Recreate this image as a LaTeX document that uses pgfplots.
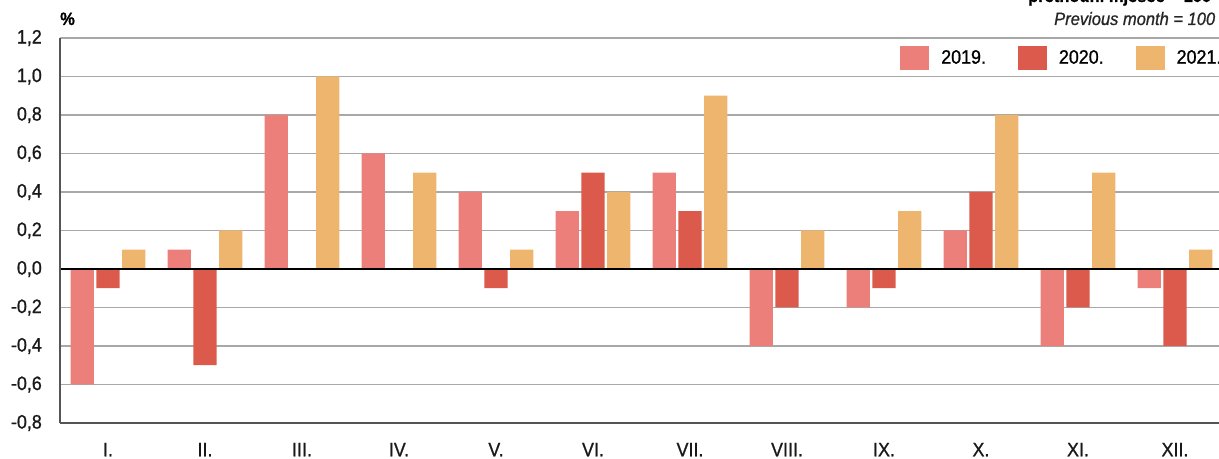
\documentclass[border=0pt]{standalone}
\usepackage{pgfplots}
\pgfplotsset{compat=1.18}
\usepackage{fontspec}
\setmainfont{Liberation Sans}[FakeStretch=0.92, FakeBold=0.9]
\definecolor{c19}{HTML}{EC7F7A}
\definecolor{c20}{HTML}{DC5A4B}
\definecolor{c21}{HTML}{EDB56E}
\definecolor{gridc}{HTML}{A8A8A8}
\definecolor{axc}{HTML}{555555}
\begin{document}
\begin{tikzpicture}
\path[use as bounding box] (0bp,0bp) rectangle (1219bp,459bp);
\begin{axis}[
  at={(60bp,36bp)}, anchor=south west, scale only axis,
  width=1159bp, height=385bp,
  xmin=-0.495, xmax=11.454, ymin=-0.8, ymax=1.2,
  ytick={-0.8,-0.6,-0.4,-0.2,0,0.2,0.4,0.6,0.8,1.0,1.2},
  xtick={0,1,2,3,4,5,6,7,8,9,10,11},
  xticklabels={I.,II.,III.,IV.,V.,VI.,VII.,VIII.,IX.,X.,XI.,XII.},
  ymajorgrids, major grid style={draw=gridc, line width=1.1bp},
  axis line style={draw=none}, tick style={draw=none},
  ybar, bar width=23.3bp,
  ticklabel style={font=\fontsize{19.5}{22}\selectfont, text=black!90},
  yticklabel style={/pgf/number format/.cd, fixed, fixed zerofill, precision=1, use comma, assume math mode=true,
    /tikz/.cd, anchor=east, inner sep=0pt, xshift=-18bp},
  xticklabel style={anchor=base, inner sep=0pt, yshift=-29bp},
  legend columns=3,
  legend style={at={(rel axis cs:0.7248,0.949)}, anchor=west, draw=none, fill=none, inner sep=0pt,
    font=\fontsize{19.5}{22}\selectfont,
    /tikz/every odd column/.append style={column sep=10bp},
    /tikz/every even column/.append style={column sep=30bp}},
  legend image code/.code={\fill[#1,draw=none] (0bp,-12bp) rectangle (29bp,12bp);},
  clip=false,
]
\addplot[fill=c19, draw=none, bar shift=-25.8bp] coordinates {
 (0,-0.6) (1,0.1) (2,0.8) (3,0.6) (4,0.4) (5,0.3) (6,0.5) (7,-0.4) (8,-0.2) (9,0.2) (10,-0.4) (11,-0.1)};
\addplot[fill=c20, draw=none, bar shift=0bp] coordinates {
 (0,-0.1) (1,-0.5) (2,0) (3,0) (4,-0.1) (5,0.5) (6,0.3) (7,-0.2) (8,-0.1) (9,0.4) (10,-0.2) (11,-0.4)};
\addplot[fill=c21, draw=none, bar shift=25.8bp] coordinates {
 (0,0.1) (1,0.2) (2,1.0) (3,0.5) (4,0.1) (5,0.4) (6,0.9) (7,0.2) (8,0.3) (9,0.8) (10,0.5) (11,0.1)};
\legend{2019.,2020.,2021.}
\draw[black, line width=1.3bp] (axis cs:-0.495,0) -- (axis cs:11.454,0);
\draw[axc, line width=1.5bp] (rel axis cs:0,0) -- (rel axis cs:0,1);
\draw[axc, line width=1.3bp] (rel axis cs:0,0) -- (rel axis cs:1,0);
\end{axis}
\node[anchor=base west, inner sep=0pt, font=\fontsize{18}{20}\selectfont\bfseries] at (1028bp,457bp) {prethodni mjesec = 100};
\node[anchor=base west, inner sep=0pt, font=\fontsize{18}{20}\selectfont\itshape, text=black!85] at (1054bp,434bp) {Previous month = 100};
\node[anchor=base west, inner sep=0pt, font=\fontsize{18}{20}\selectfont\bfseries] at (60bp,434bp) {\%};
\end{tikzpicture}
\end{document}
